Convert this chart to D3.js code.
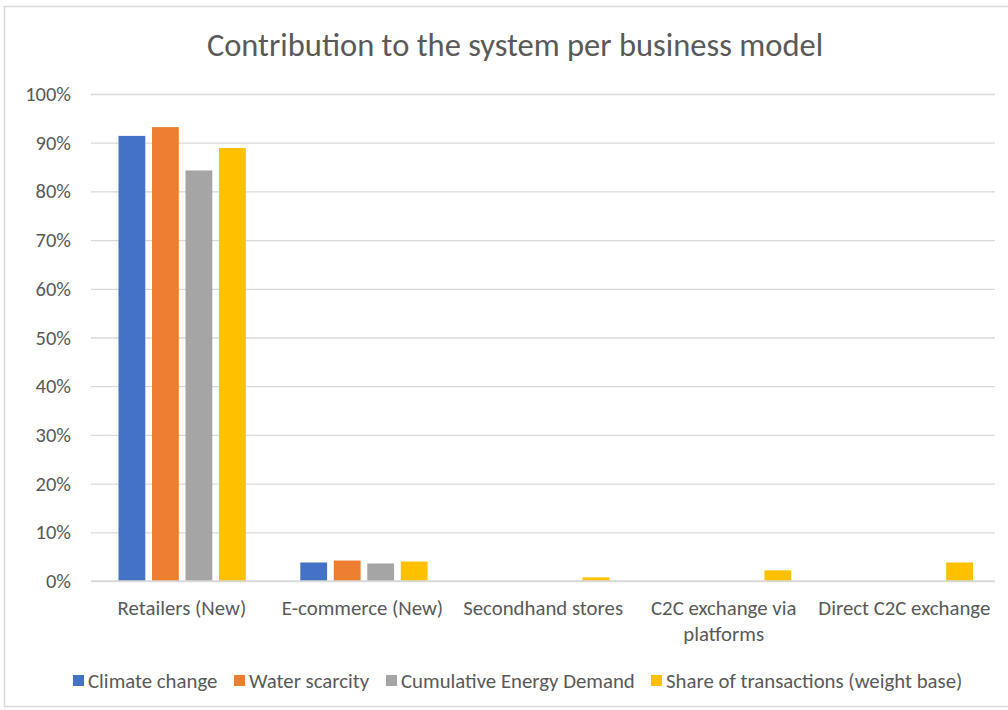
<!DOCTYPE html>
<html><head><meta charset="utf-8">
<script src="https://cdn.jsdelivr.net/npm/d3@7"></script>
<style>
html,body{margin:0;padding:0;background:#fff;}
svg text{font-family:Carlito, Calibri, "Open Sans", sans-serif;fill:#595959;}
</style></head>
<body>
<svg id="chart" width="1008" height="710"></svg>
<script>
const categories = ["Retailers (New)", "E-commerce (New)", "Secondhand stores", "C2C exchange via platforms", "Direct C2C exchange"];
const categoryLines = [["Retailers (New)"], ["E-commerce (New)"], ["Secondhand stores"], ["C2C exchange via", "platforms"], ["Direct C2C exchange"]];
const seriesNames = ["Climate change", "Water scarcity", "Cumulative Energy Demand", "Share of transactions (weight base)"];
const seriesColors = ["#4472C4", "#ED7D31", "#A5A5A5", "#FFC000"];
const climateChange = [0.914, 0.038, 0, 0, 0];
const waterScarcity = [0.932, 0.042, 0, 0, 0];
const cumulativeEnergy = [0.843, 0.036, 0, 0, 0];
const shareTransactions = [0.889, 0.040, 0.0075, 0.022, 0.038];
const yTicks = [0, 0.1, 0.2, 0.3, 0.4, 0.5, 0.6, 0.7, 0.8, 0.9, 1.0];
const title = "Contribution to the system per business model";

(function(){
const seriesValues = [climateChange, waterScarcity, cumulativeEnergy, shareTransactions];
const FONT = "Carlito, Calibri, 'Open Sans', sans-serif";

const svg = d3.select("#chart");
const mLeft = 91, mRight = 1000, gridRight = 995, mTop = 94, mBottom = 581;

svg.append("rect").attr("x", 4.5).attr("y", 6.5).attr("width", 1010).attr("height", 700)
  .attr("fill", "#fff").attr("stroke", "#d9d9d9").attr("stroke-width", 1.5);

svg.append("text").attr("x", 515).attr("y", 56).attr("text-anchor", "middle")
  .style("font-size", "32.5px").style("font-weight", "300").text(title);

const y = d3.scaleLinear().domain([0, 1]).range([mBottom, mTop]);
const x0 = d3.scaleBand().domain(categories).range([mLeft, mRight]).padding(0);
const x1 = d3.scaleBand().domain(d3.range(seriesNames.length))
  .range([27.5, x0.bandwidth() - 27]).paddingInner(0.2).paddingOuter(0);

const yAxis = d3.axisLeft(y).tickValues(yTicks).tickFormat(d3.format(".0%"))
  .tickSize(-(gridRight - mLeft)).tickPadding(20);
const ga = svg.append("g").attr("transform", `translate(${mLeft},0)`).call(yAxis);
ga.select(".domain").remove();
ga.selectAll(".tick line").attr("stroke", "#d9d9d9").attr("stroke-width", 1.3);
ga.selectAll(".tick text").attr("fill", "#595959").style("font-size", "20.5px")
  .style("font-family", FONT);

const groups = svg.append("g").selectAll("g").data(categories).join("g")
  .attr("transform", d => `translate(${x0(d)},0)`);
groups.selectAll("rect")
  .data((c, ci) => seriesValues.map((vals, si) => ({si, v: vals[ci]})).filter(d => d.v > 0))
  .join("rect")
  .attr("x", d => x1(d.si))
  .attr("width", x1.bandwidth())
  .attr("y", d => y(d.v))
  .attr("height", d => y(0) - y(d.v))
  .attr("fill", d => seriesColors[d.si]);

svg.append("line").attr("x1", mLeft).attr("x2", gridRight).attr("y1", mBottom).attr("y2", mBottom)
  .attr("stroke", "#d9d9d9").attr("stroke-width", 1.5);

const xAxis = d3.axisBottom(x0).tickSize(0).tickPadding(0).tickFormat(() => "");
const gx = svg.append("g").attr("transform", `translate(0,${mBottom})`).call(xAxis);
gx.select(".domain").remove();
gx.selectAll(".tick").each(function(d, i) {
  const t = d3.select(this).select("text").attr("y", 0).attr("dy", null);
  categoryLines[i].forEach((line, li) => {
    t.append("tspan").attr("x", -i * 1.2).attr("y", 34 + li * 26).text(line);
  });
});
gx.selectAll(".tick text").attr("fill", "#595959").style("font-size", "20.8px")
  .style("font-family", FONT);

const legendX = [73, 234, 386, 651];
const lg = svg.append("g").selectAll("g").data(seriesNames).join("g")
  .attr("transform", (d, i) => `translate(${legendX[i]},681)`);
lg.append("rect").attr("x", 0).attr("y", -6).attr("width", 11).attr("height", 11)
  .attr("fill", (d, i) => seriesColors[i]);
lg.append("text").attr("x", 15).attr("y", 7).style("font-size", "20.8px").text(d => d);
})();
</script>
</body></html>
